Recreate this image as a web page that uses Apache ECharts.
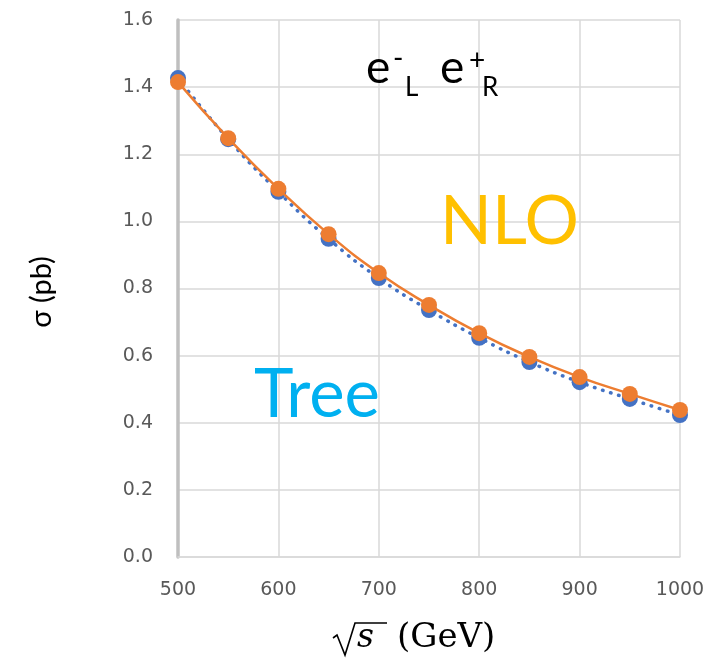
<!DOCTYPE html>
<html><head><meta charset="utf-8">
<script src="https://cdn.jsdelivr.net/npm/echarts@6/dist/echarts.min.js"></script>
<style>html,body{margin:0;padding:0;background:#fff}#c{width:711px;height:663px}</style>
</head><body><div id="c"></div>
<script>
const energies = [500, 550, 600, 650, 700, 750, 800, 850, 900, 950, 1000];
const treeValues = [1.427, 1.245, 1.088, 0.948, 0.831, 0.736, 0.653, 0.581, 0.521, 0.471, 0.423];
const nloValues  = [1.415, 1.248, 1.097, 0.962, 0.846, 0.751, 0.667, 0.596, 0.536, 0.486, 0.438];
const xTicks = [500, 600, 700, 800, 900, 1000];
const yTicks = [0, 0.2, 0.4, 0.6, 0.8, 1.0, 1.2, 1.4, 1.6];

const chart = echarts.init(document.getElementById('c'), null, {renderer: 'canvas'});
const F = 'Lato';
function t(x, y, text, size, color) {
  return {type: 'text', x: x, y: y, z: 50,
    style: {text: text, fill: color, fontSize: size, fontFamily: F,
      align: 'left', verticalAlign: 'middle'}};
}
chart.setOption({
  animation: false,
  backgroundColor: '#fff',
  grid: {left: 178, right: 31, top: 20, bottom: 106},
  xAxis: {
    type: 'value', min: xTicks[0], max: xTicks[xTicks.length-1], interval: 100,
    axisLine: {show: true, lineStyle: {color: '#d9d9d9', width: 1.5}},
    axisTick: {show: false},
    splitLine: {show: true, lineStyle: {color: '#d9d9d9', width: 1.5}},
    axisLabel: {color: '#595959', fontSize: 19, fontFamily: 'DejaVu Sans', margin: 24,
      formatter: v => String(v)}
  },
  yAxis: {
    type: 'value', min: yTicks[0], max: yTicks[yTicks.length-1], interval: 0.2,
    axisLine: {show: true, lineStyle: {color: '#bfbfbf', width: 3.5}},
    axisTick: {show: false},
    splitLine: {show: true, lineStyle: {color: '#d9d9d9', width: 1.5}},
    axisLabel: {color: '#595959', fontSize: 19, fontFamily: 'DejaVu Sans', margin: 25,
      formatter: v => v.toFixed(1)}
  },
  series: [
    {
      name: 'Tree', type: 'line', smooth: true,
      data: energies.map((e, i) => [e, treeValues[i]]),
      symbol: 'circle', symbolSize: 16,
      itemStyle: {color: '#4472C4'},
      lineStyle: {color: '#4472C4', width: 3.5, type: [0.5, 8], cap: 'round'},
      z: 2
    },
    {
      name: 'NLO', type: 'line', smooth: true,
      data: energies.map((e, i) => [e, nloValues[i]]),
      symbol: 'circle', symbolSize: 16,
      itemStyle: {color: '#ED7D31'},
      lineStyle: {color: '#ED7D31', width: 2.5},
      z: 3
    }
  ],
  graphic: [
    t(440, 222, 'NLO', 68, '#FFC000'),
    t(254, 395, 'Tree', 67, '#00B0F0'),
    t(366, 68, 'e', 46, '#000'),
    t(393, 59, '-', 28, '#000'),
    t(405, 88, 'L', 26, '#000'),
    t(440, 68, 'e', 46, '#000'),
    t(469, 61, '+', 28, '#000'),
    t(482, 88, 'R', 26, '#000'),
    {type: 'text', x: 42, y: 292, rotation: Math.PI/2, z: 50,
      style: {text: 'σ (pb)', fill: '#000', fontSize: 29, fontFamily: F, align: 'center', verticalAlign: 'middle'}},
    {type: 'polyline', shape: {points: [[333, 638], [337, 635], [345, 655], [355, 623], [387, 623]]},
      style: {stroke: '#000', lineWidth: 1.6, fill: null}},
    {type: 'text', x: 357, y: 638, style: {text: 's', fill: '#000', fontSize: 33, fontStyle: 'italic', fontFamily: 'DejaVu Serif', align: 'left', verticalAlign: 'middle'}},
    {type: 'text', x: 397, y: 638, style: {text: '(GeV)', fill: '#000', fontSize: 34, fontFamily: 'DejaVu Serif', align: 'left', verticalAlign: 'middle'}}
  ]
});
</script></body></html>
